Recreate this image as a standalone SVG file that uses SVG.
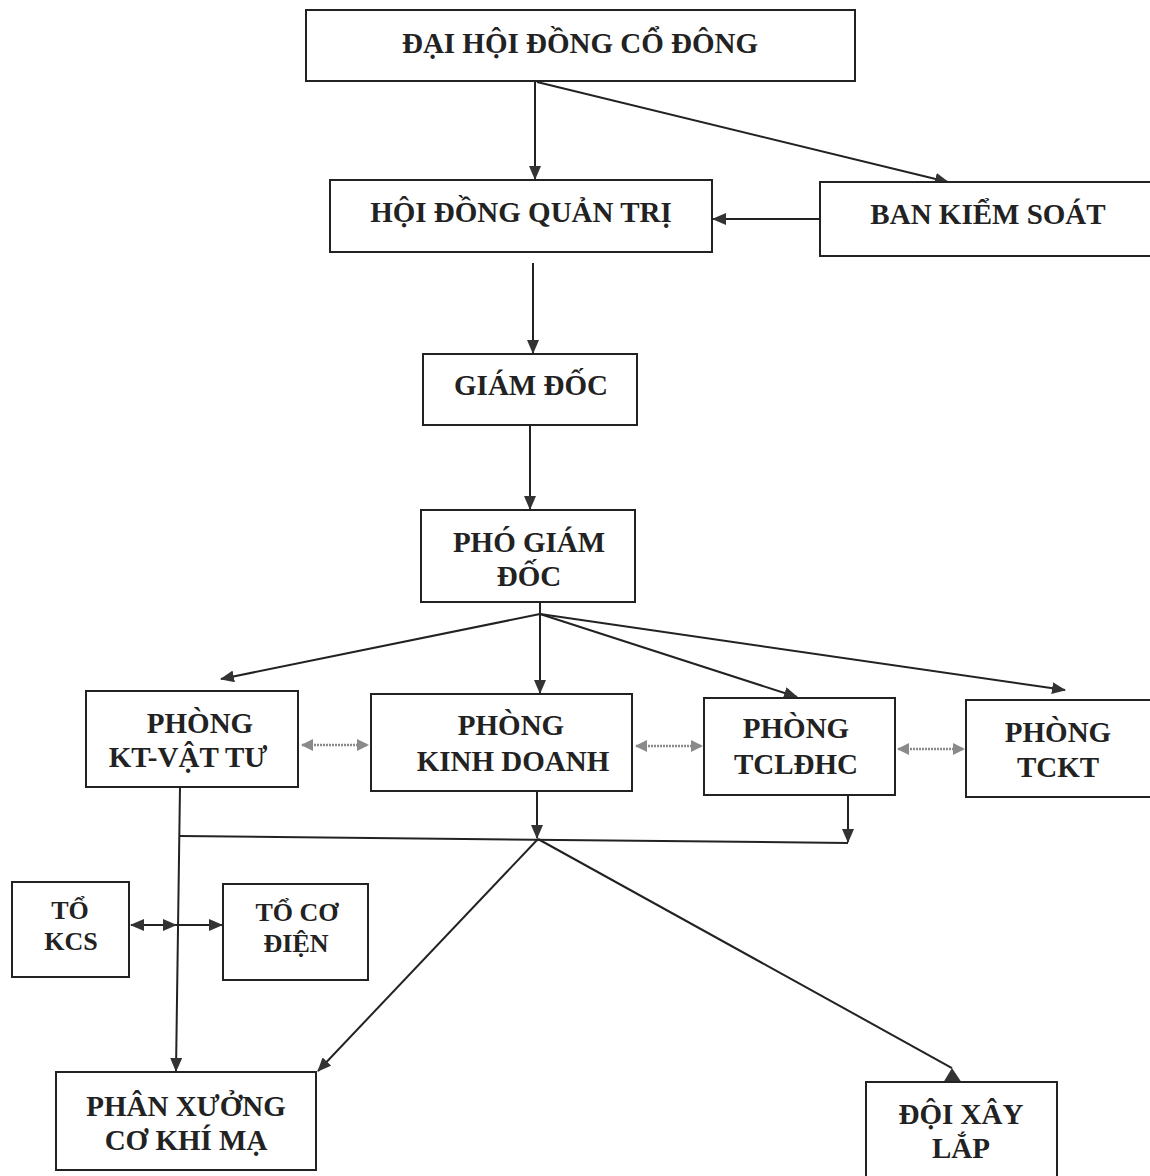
<svg xmlns="http://www.w3.org/2000/svg" width="1150" height="1176" viewBox="0 0 1150 1176">
<style>
.box{fill:#fff;stroke:#222;stroke-width:2}
.t{font-family:"Liberation Serif","Times New Roman",serif;font-weight:bold;font-size:29px;fill:#222;text-anchor:middle}
.s{font-size:26px}
.c{fill:none;stroke:#222;stroke-width:2}
.g{fill:none;stroke:#8a8a8a;stroke-width:2.5;stroke-dasharray:2 1}
</style>
<defs>
<marker id="a" viewBox="0 0 14 12" refX="13" refY="6" markerWidth="14" markerHeight="12" markerUnits="userSpaceOnUse" orient="auto-start-reverse">
<path d="M0,0 L14,6 L0,12 Z" fill="#333"/>
</marker>
<marker id="ga" viewBox="0 0 12 12" refX="11" refY="6" markerWidth="12" markerHeight="12" markerUnits="userSpaceOnUse" orient="auto-start-reverse">
<path d="M0,0 L12,6 L0,12 Z" fill="#8a8a8a"/>
</marker>
</defs>
<rect width="1150" height="1176" fill="#fff"/>
<g id="connectors">
<line class="c" x1="535" y1="82" x2="535" y2="179" marker-end="url(#a)"/>
<line class="c" x1="537" y1="82" x2="948" y2="182" marker-end="url(#a)"/>
<line class="c" x1="820" y1="219" x2="713" y2="219" marker-end="url(#a)"/>
<line class="c" x1="533" y1="263" x2="533" y2="353" marker-end="url(#a)"/>
<line class="c" x1="530" y1="425" x2="530" y2="509" marker-end="url(#a)"/>
<line class="c" x1="540" y1="602" x2="540" y2="614"/>
<line class="c" x1="540" y1="614" x2="540" y2="693" marker-end="url(#a)"/>
<line class="c" x1="540" y1="614" x2="221" y2="679" marker-end="url(#a)"/>
<line class="c" x1="540" y1="614" x2="797" y2="697" marker-end="url(#a)"/>
<line class="c" x1="540" y1="614" x2="1065" y2="690" marker-end="url(#a)"/>
<line class="g" x1="302" y1="745" x2="368" y2="745" marker-start="url(#ga)" marker-end="url(#ga)"/>
<line class="g" x1="636" y1="746" x2="702" y2="746" marker-start="url(#ga)" marker-end="url(#ga)"/>
<line class="g" x1="898" y1="749" x2="964" y2="749" marker-start="url(#ga)" marker-end="url(#ga)"/>
<line class="c" x1="537" y1="791" x2="537" y2="838" marker-end="url(#a)"/>
<line class="c" x1="848" y1="795" x2="848" y2="842" marker-end="url(#a)"/>
<line class="c" x1="180" y1="836" x2="848" y2="843"/>
<line class="c" x1="180" y1="787" x2="176" y2="1071" marker-end="url(#a)"/>
<line class="c" x1="538" y1="839" x2="318" y2="1071" marker-end="url(#a)"/>
<line class="c" x1="538" y1="839" x2="952" y2="1068"/>
<polygon points="952,1068 943,1083 962,1083" fill="#333"/>
<line class="c" x1="131" y1="925" x2="176" y2="925" marker-start="url(#a)" marker-end="url(#a)"/>
<line class="c" x1="176" y1="925" x2="222" y2="925" marker-end="url(#a)"/>
</g>
<g id="dhdcd"><rect class="box" x="306" y="10" width="549" height="71"/><text class="t" x="580" y="53">ĐẠI HỘI ĐỒNG CỔ ĐÔNG</text></g>
<g id="hdqt"><rect class="box" x="330" y="180" width="382" height="72"/><text class="t" x="521" y="222">HỘI ĐỒNG QUẢN TRỊ</text></g>
<g id="bks"><rect class="box" x="820" y="182" width="340" height="74"/><text class="t" x="988" y="224">BAN KIỂM SOÁT</text></g>
<g id="gd"><rect class="box" x="423" y="354" width="214" height="71"/><text class="t" x="531" y="395">GIÁM ĐỐC</text></g>
<g id="pgd"><rect class="box" x="421" y="510" width="214" height="92"/><text class="t" x="529" y="552">PHÓ GIÁM</text><text class="t" x="529" y="586">ĐỐC</text></g>
<g id="ktvt"><rect class="box" x="86" y="691" width="212" height="96"/><text class="t" x="200" y="733">PHÒNG</text><text class="t" x="188" y="767">KT-VẬT TƯ</text></g>
<g id="kd"><rect class="box" x="371" y="694" width="261" height="97"/><text class="t" x="511" y="735">PHÒNG</text><text class="t" x="513" y="771">KINH DOANH</text></g>
<g id="tcldhc"><rect class="box" x="704" y="698" width="191" height="97"/><text class="t" x="796" y="738">PHÒNG</text><text class="t" x="796" y="774">TCLĐHC</text></g>
<g id="tckt"><rect class="box" x="966" y="700" width="194" height="97"/><text class="t" x="1058" y="742">PHÒNG</text><text class="t" x="1058" y="777">TCKT</text></g>
<g id="kcs"><rect class="box" x="12" y="882" width="117" height="95"/><text class="t s" x="70" y="919">TỔ</text><text class="t s" x="71" y="950">KCS</text></g>
<g id="codien"><rect class="box" x="223" y="884" width="145" height="96"/><text class="t s" x="297" y="921">TỔ CƠ</text><text class="t s" x="296" y="952">ĐIỆN</text></g>
<g id="px"><rect class="box" x="56" y="1072" width="260" height="98"/><text class="t" x="186" y="1116">PHÂN XƯỞNG</text><text class="t" x="186" y="1150">CƠ KHÍ MẠ</text></g>
<g id="dxl"><rect class="box" x="866" y="1082" width="191" height="110"/><text class="t" x="961" y="1124">ĐỘI XÂY</text><text class="t" x="961" y="1158">LẮP</text></g>
</svg>
